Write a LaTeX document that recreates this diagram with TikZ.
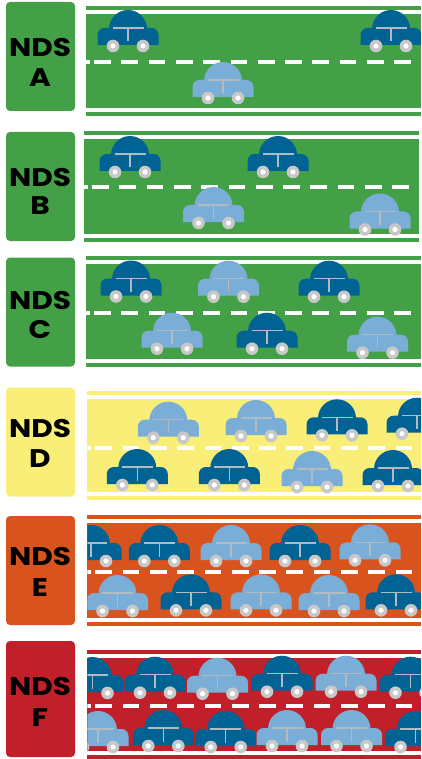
\documentclass[tikz,border=0pt]{standalone}
\usepackage{fontspec}
\newfontfamily\lblfont{Poppins}
\definecolor{ndsA}{RGB}{67,160,71}
\definecolor{ndsD}{RGB}{249,238,120}
\definecolor{ndsE}{RGB}{217,83,30}
\definecolor{ndsF}{RGB}{193,32,43}
\definecolor{carD}{RGB}{0,99,148}
\definecolor{carL}{RGB}{123,174,214}
\definecolor{wheelgrey}{RGB}{200,200,200}
\definecolor{tgrey}{RGB}{178,186,194}

% road band: x0, x1, top, bottom, colour, dash centre
\newcommand\ndsroad[6]{%
  \fill[#5] (#1,#3) rectangle (#2,#4);
  \fill[white] (#1,#3+4) rectangle (#2,#3+8);
  \fill[white] (#1,#4-8) rectangle (#2,#4-4);
  \begin{scope}
    \clip (#1,#3) rectangle (#2,#4);
    \fill[white] (#1,#6-2.2) rectangle (#1+4,#6+2.2);
    \foreach \k in {0,...,12}
      \fill[white] (#1+8+27.3*\k,#6-2.2) rectangle (#1+24.7+27.3*\k,#6+2.2);
  \end{scope}}

% label text, widened a little
\newcommand\lbltext[1]{\scalebox{1.16}[1]{#1}}

\begin{document}
\begin{tikzpicture}[x=1pt,y=-1pt,
  labelbox/.style={rounded corners=4pt, minimum width=69pt, inner sep=0pt, draw=none},
  lbl/.style={font=\lblfont\bfseries\fontsize{25.5}{25.5}\selectfont, inner sep=0pt, text=black},
  pics/car/.style={code={
    \begin{scope}[yscale=-1]
      \fill[#1] (-30.5,0) -- (-30.5,10) arc[start angle=180,end angle=90,radius=7]
        -- (23.5,17) arc[start angle=90,end angle=0,radius=7] -- (30.5,0) -- cycle;
      \fill[#1] (-19,16) arc[start angle=180,end angle=0,radius=19] -- cycle;
      \draw[tgrey,line width=1.3pt] (-15.5,17) -- (15.5,17) (0,17) -- (0,3.5);
      \foreach \s in {-15,15}{
        \fill[wheelgrey] (\s,-1) circle[radius=6.3];
        \fill[white] (\s,-1) circle[radius=2.6];}
    \end{scope}}}]
\useasboundingbox (0,0) rectangle (421,759);
\fill[white] (0,0) rectangle (421,759);

% ---------- labels ----------
\node[labelbox, fill=ndsA, minimum height=109pt] (boxA) at (40.5,56.5) {};
\node[lbl] (ndsA1) at (40,48) {\lbltext{NDS}};
\node[lbl] (ndsA2) at (40,78) {\lbltext{A}};
\node[labelbox, fill=ndsA, minimum height=109pt] (boxB) at (40.5,186.5) {};
\node[lbl] (ndsB1) at (40,177.5) {\lbltext{NDS}};
\node[lbl] (ndsB2) at (40,206) {\lbltext{B}};
\node[labelbox, fill=ndsA, minimum height=109pt] (boxC) at (40.5,312) {};
\node[lbl] (ndsC1) at (40,300.3) {\lbltext{NDS}};
\node[lbl] (ndsC2) at (40,330) {\lbltext{C}};
\node[labelbox, fill=ndsD, minimum height=109pt] (boxD) at (40.5,442) {};
\node[lbl] (ndsD1) at (40,428.8) {\lbltext{NDS}};
\node[lbl] (ndsD2) at (40,458.3) {\lbltext{D}};
\node[labelbox, fill=ndsE, minimum height=109pt] (boxE) at (40.5,570.5) {};
\node[lbl] (ndsE1) at (40,556.7) {\lbltext{NDS}};
\node[lbl] (ndsE2) at (40,588) {\lbltext{E}};
\node[labelbox, fill=ndsF, minimum height=116pt] (boxF) at (40.5,699) {};
\node[lbl] (ndsF1) at (40,687) {\lbltext{NDS}};
\node[lbl] (ndsF2) at (40,718) {\lbltext{F}};

% ---------- road A ----------
\ndsroad{86}{421}{6}{116}{ndsA}{62}
\begin{scope}
  \clip (86,6) rectangle (421,116);
  \pic at (128,45) {car=carD};
  \pic at (391,45) {car=carD};
  \pic at (223,97) {car=carL};
\end{scope}

% ---------- road B ----------
\ndsroad{84}{419}{131}{242}{ndsA}{187}
\begin{scope}
  \clip (84,131) rectangle (419,242);
  \pic at (130,171) {car=carD};
  \pic at (278,171) {car=carD};
  \pic at (213.5,222) {car=carL};
  \pic at (380,228.5) {car=carL};
\end{scope}

% ---------- road C ----------
\ndsroad{86}{421}{256}{367}{ndsA}{313}
\begin{scope}
  \clip (86,256) rectangle (421,367);
  \pic at (131,295.5) {car=carD};
  \pic at (228.5,295.7) {car=carL};
  \pic at (329,295.7) {car=carD};
  \pic at (172,347.7) {car=carL};
  \pic at (267,347.7) {car=carD};
  \pic at (377.5,351.7) {car=carL};
\end{scope}

% ---------- road D ----------
\ndsroad{87.3}{421}{391}{500}{ndsD}{448}
\begin{scope}
  \clip (87.3,391) rectangle (421,500);
  \pic at (168.3,436.7) {car=carL};
  \pic at (256,435) {car=carL};
  \pic at (337,434.3) {car=carD};
  \pic at (417,432.7) {car=carD};
  \pic at (137.3,484) {car=carD};
  \pic at (229.3,484) {car=carD};
  \pic at (312,486) {car=carL};
  \pic at (393,485) {car=carD};
\end{scope}

% ---------- road E ----------
\ndsroad{87.3}{421}{515}{626}{ndsE}{572}
\begin{scope}
  \clip (87.3,515) rectangle (421,626);
  \pic at (91,560) {car=carD};
  \pic at (159.3,560) {car=carD};
  \pic at (231,560) {car=carL};
  \pic at (300,560) {car=carD};
  \pic at (370,559.3) {car=carL};
  \pic at (117.5,610) {car=carL};
  \pic at (191,609.3) {car=carD};
  \pic at (261,609.3) {car=carL};
  \pic at (329,610) {car=carL};
  \pic at (396,609.3) {car=carD};
\end{scope}

% ---------- road F ----------
\ndsroad{87.3}{421}{650}{759}{ndsF}{706}
\begin{scope}
  \clip (87.3,650) rectangle (421,759);
  \pic at (92.5,692) {car=carD};
  \pic at (155,691.7) {car=carD};
  \pic at (217.5,692.7) {car=carL};
  \pic at (282,690.7) {car=carD};
  \pic at (346,690.7) {car=carL};
  \pic at (410.5,691.7) {car=carD};
  \pic at (98,746) {car=carL};
  \pic at (163.3,745) {car=carD};
  \pic at (225.7,746) {car=carD};
  \pic at (287,745) {car=carL};
  \pic at (351.5,745) {car=carL};
  \pic at (415.5,746) {car=carD};
\end{scope}
\end{tikzpicture}
\end{document}
